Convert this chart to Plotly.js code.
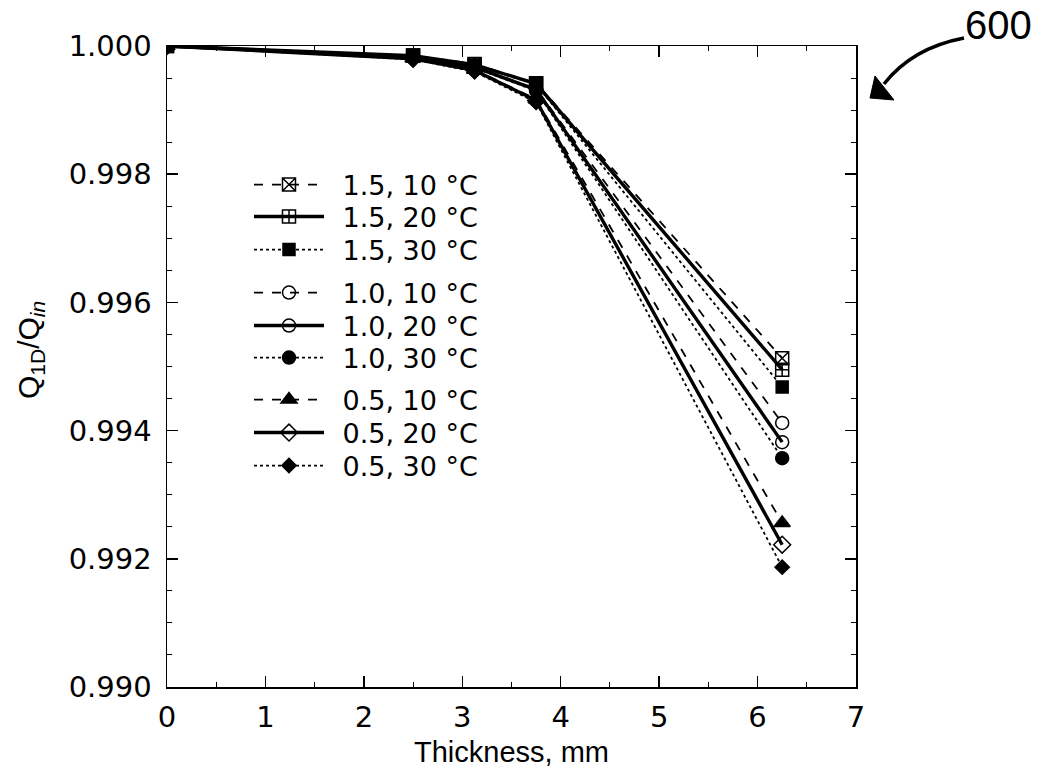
<!DOCTYPE html>
<html>
<head>
<meta charset="utf-8">
<script src="https://cdn.plot.ly/plotly-3.0.1.min.js"></script>
<style>html,body{margin:0;padding:0;background:#fff;}#chart{width:1043px;height:775px;}</style>
</head>
<body>
<div id="chart"></div>
<script>
const thickness = [0, 2.5, 3.125, 3.75, 6.25];
const q15_10 = [1.0, 0.99985, 0.99972, 0.99942, 0.99513];
const q15_20 = [1.0, 0.99985, 0.99971, 0.99941, 0.99495];
const q15_30 = [1.0, 0.99984, 0.99970, 0.99940, 0.99468];
const q10_10 = [1.0, 0.99983, 0.99968, 0.99933, 0.99412];
const q10_20 = [1.0, 0.99983, 0.99967, 0.99932, 0.99382];
const q10_30 = [1.0, 0.99982, 0.99966, 0.99930, 0.99357];
const q05_10 = [1.0, 0.99981, 0.99963, 0.99917, 0.99256];
const q05_20 = [1.0, 0.99980, 0.99962, 0.99915, 0.99222];
const q05_30 = [1.0, 0.99979, 0.99960, 0.99912, 0.99187];

const seriesNames = ["1.5, 10 °C","1.5, 20 °C","1.5, 30 °C","1.0, 10 °C","1.0, 20 °C","1.0, 30 °C","0.5, 10 °C","0.5, 20 °C","0.5, 30 °C"];
const seriesValues = [q15_10,q15_20,q15_30,q10_10,q10_20,q10_30,q05_10,q05_20,q05_30];
const symbols = ["square-x-open","square-cross-open","square","circle-open","circle-open","circle","triangle-up","diamond-open","diamond"];
const dashes = ["dash","solid","dot"];
const widths = [1.8, 3.4, 1.8];
const msizes = [13,13,12,13,13,13,14,13,11];
// legend row centres (px from top) of the reference legend
const legendRows = [185, 217, 250, 293, 326, 358, 400, 433, 466];

const legendIds = seriesNames.map((_,i)=> i===0 ? 'legend' : 'legend'+(i+1));

const traces = seriesValues.map((v,i)=>({
  x: thickness, y: v, name: '\u2002' + seriesNames[i], legend: legendIds[i],
  type:'scatter', mode:'lines+markers',
  line:{color:'#000', width:widths[i%3], dash:dashes[i%3]},
  marker:{symbol:symbols[i], size:msizes[i], color:'#000', line:{color:'#000', width:1.5}}
}));

function px(x){return (x-167)/689;}
function py(y){return (687-y)/641;}

const numFont = '"DejaVu Sans", sans-serif';
const txtFont = '"Liberation Sans", Arial, sans-serif';

function legendAt(yc){
  return {x:px(249), y:py(yc), xanchor:'left', yanchor:'middle', bgcolor:'rgba(0,0,0,0)',
    itemwidth:70, font:{size:27, family:numFont, color:'#000'}};
}

const layout = {
  width:1043, height:775,
  margin:{l:167, r:187, t:46, b:88},
  paper_bgcolor:'#fff', plot_bgcolor:'#fff',
  font:{family:numFont, color:'#000', size:29},
  showlegend:true,
  xaxis:{range:[0,7], dtick:1, tick0:0, showline:true, linecolor:'#000', linewidth:1.5,
    mirror:'allticks', ticks:'inside', ticklen:11, tickwidth:1.5, tickcolor:'#000',
    showgrid:false, zeroline:false, ticklabelstandoff:4,
    tickfont:{family:numFont, size:29},
    minor:{dtick:0.5, ticks:'inside', ticklen:5, tickwidth:1, tickcolor:'#000'},
    title:{text:'Thickness, mm', font:{size:29, family:txtFont}, standoff:8}},
  yaxis:{range:[0.990,1.000], dtick:0.002, tick0:0.990, tickformat:'.3f', showline:true, linecolor:'#000', linewidth:1.5,
    mirror:'allticks', ticks:'inside', ticklen:11, tickwidth:1.5, tickcolor:'#000',
    showgrid:false, zeroline:false, ticklabelstandoff:8,
    tickfont:{family:numFont, size:29},
    minor:{dtick:0.0005, ticks:'inside', ticklen:5, tickwidth:1, tickcolor:'#000'}},
  annotations:[
    {xref:'paper', yref:'paper', x:px(998), y:py(25), text:'600', showarrow:false,
     font:{size:40, color:'#000', family:txtFont}, xanchor:'center', yanchor:'middle'},
    {xref:'paper', yref:'paper', x:px(30), y:py(350), text:'Q<sub>1D</sub>/Q<sub><i>in</i></sub>', textangle:-90,
     showarrow:false, font:{size:30, color:'#000', family:txtFont}, xanchor:'center', yanchor:'middle'}
  ],
  shapes:[
    {type:'path', xref:'paper', yref:'paper',
     path:'M '+px(964)+' '+py(38)+' Q '+px(912)+' '+py(48)+' '+px(884)+' '+py(84),
     line:{color:'#000', width:3.5}},
    {type:'path', xref:'paper', yref:'paper',
     path:'M '+px(870)+' '+py(98)+' L '+px(875)+' '+py(76)+' L '+px(894)+' '+py(100)+' Z',
     fillcolor:'#000', line:{color:'#000', width:1}}
  ]
};
legendIds.forEach((id,i)=>{ layout[id] = legendAt(legendRows[i]); });

Plotly.newPlot('chart', traces, layout, {displayModeBar:false, staticPlot:true});
</script>
</body>
</html>
